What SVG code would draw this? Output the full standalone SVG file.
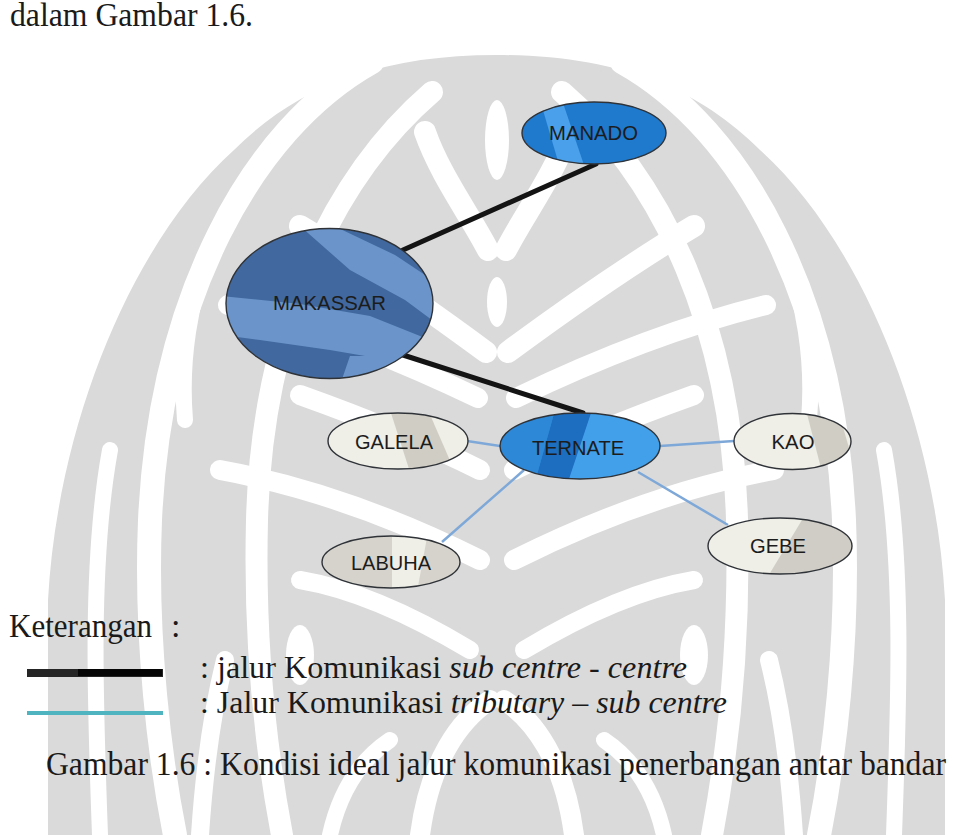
<svg xmlns="http://www.w3.org/2000/svg" xmlns:xlink="http://www.w3.org/1999/xlink" width="953" height="835" viewBox="0 0 953 835">
  <defs>
    <style>
      .wm { fill: #dadada; }
      .gap { fill: none; stroke: #ffffff; stroke-linecap: round; }
      .outline { fill: none; stroke: #2f3338; stroke-width: 1.4; }
      .lbl { font-family: "Liberation Sans", Arial, sans-serif; font-size: 21px; fill: #1c1c1c; text-anchor: middle; }
      .hub { fill: none; stroke: #141414; stroke-width: 5; stroke-linecap: round; }
      .spoke { fill: none; stroke: #7ea8d8; stroke-width: 2.5; }
      .doc { font-family: "Liberation Serif", "Times New Roman", serif; font-size: 34px; fill: #1a1a1a; }
      .row { font-size: 31px; }
      .it { font-style: italic; }
    </style>
    <clipPath id="cManado"><ellipse cx="594" cy="133" rx="72" ry="31"/></clipPath>
    <clipPath id="cMakassar"><ellipse cx="329.5" cy="303.5" rx="103.5" ry="75"/></clipPath>
    <clipPath id="cTernate"><ellipse cx="580" cy="446" rx="80" ry="33"/></clipPath>
    <clipPath id="cGalela"><ellipse cx="398" cy="441" rx="70" ry="28"/></clipPath>
    <clipPath id="cKao"><ellipse cx="792.5" cy="441.5" rx="58.5" ry="28"/></clipPath>
    <clipPath id="cLabuha"><ellipse cx="391" cy="562" rx="69" ry="26"/></clipPath>
    <clipPath id="cGebe"><ellipse cx="780" cy="546" rx="72" ry="28"/></clipPath>
  </defs>

  <rect width="953" height="835" fill="#ffffff"/>

  <!-- background emblem, symmetric about x = 497 -->
  <g id="watermark">
    <path class="wm" d="M497 55 C620 55 700 90 760 150 C860 240 935 420 945 600 L945 835 L48 835 L48 600 C58 420 134 240 234 150 C294 90 374 55 497 55 Z"/>
    <g id="gaps-left">
      <path class="gap" stroke-width="24" d="M372 62 C250 130 160 300 150 520 C145 640 160 760 175 835"/>
      <path class="gap" stroke-width="22" d="M432 92 C330 180 262 330 257 520 C254 640 264 740 282 835"/>
      <path class="gap" stroke-width="22" d="M488 250 C470 215 440 175 425 132"/>
      <path class="gap" stroke-width="22" d="M486 352 C440 318 370 268 300 226"/>
      <path class="gap" stroke-width="20" d="M478 398 C420 370 330 330 228 305"/>
      <path class="gap" stroke-width="20" d="M480 470 C430 445 370 420 300 395"/>
      <path class="gap" stroke-width="20" d="M480 560 C420 530 330 490 220 470"/>
      <path class="gap" stroke-width="18" d="M470 650 C420 620 360 590 300 580"/>
      <path class="gap" stroke-width="20" d="M420 835 C430 760 460 720 490 700"/>
      <path class="gap" stroke-width="16" d="M100 835 C95 700 90 560 110 450"/>
      <path class="gap" stroke-width="18" d="M200 835 C205 760 215 700 225 660"/>
      <path class="gap" stroke-width="16" d="M330 835 C340 790 360 760 390 740"/>
      <path class="gap" stroke-width="16" d="M210 250 C190 300 180 360 185 420"/>
      <ellipse cx="300" cy="655" rx="14" ry="30" fill="#ffffff"/>
    </g>
    <use xlink:href="#gaps-left" transform="translate(994 0) scale(-1 1)"/>
    <ellipse cx="497" cy="302" rx="10" ry="25" fill="#ffffff"/>
    <ellipse cx="497" cy="140" rx="12" ry="40" fill="#ffffff"/>
  </g>

  <!-- route lines -->
  <g id="connectors">
    <line class="hub" x1="403" y1="250" x2="596" y2="164"/>
    <line class="hub" x1="403" y1="355" x2="583" y2="413"/>
    <line class="spoke" x1="467" y1="441" x2="500" y2="446"/>
    <line class="spoke" x1="660" y1="446" x2="734" y2="441"/>
    <line class="spoke" x1="524" y1="470" x2="442" y2="542"/>
    <line class="spoke" x1="638" y1="472" x2="728" y2="525"/>
  </g>

  <g id="node-manado">
    <ellipse cx="594" cy="133" rx="72" ry="31" fill="#1f79cd"/>
    <polygon clip-path="url(#cManado)" fill="#4aa0ea" points="540,100 562,100 585,168 560,168"/>
    <ellipse class="outline" cx="594" cy="133" rx="72" ry="31"/>
    <text class="lbl" x="593.5" y="140" textLength="89" lengthAdjust="spacingAndGlyphs">MANADO</text>
  </g>

  <g id="node-makassar">
    <ellipse cx="329.5" cy="303.5" rx="103.5" ry="75" fill="#41699f"/>
    <g clip-path="url(#cMakassar)" fill="#6b95ca">
      <polygon points="300,226 334,226 395,255 440,285 440,326 405,300 350,270"/>
      <polygon points="222,296 300,304 370,316 430,340 440,368 400,362 330,350 260,340 222,335"/>
      <polygon points="350,356 420,356 420,385 340,385"/>
    </g>
    <ellipse class="outline" cx="329.5" cy="303.5" rx="103.5" ry="75"/>
    <text class="lbl" x="329.5" y="310" textLength="113" lengthAdjust="spacingAndGlyphs">MAKASSAR</text>
  </g>

  <g id="node-ternate">
    <ellipse cx="580" cy="446" rx="80" ry="33" fill="#42a0ea"/>
    <g clip-path="url(#cTernate)">
      <polygon fill="#2d88d8" points="498,410 555,410 535,482 498,482"/>
      <polygon fill="#1d6dc0" points="555,410 592,410 568,482 535,482"/>
    </g>
    <ellipse class="outline" cx="580" cy="446" rx="80" ry="33"/>
    <text class="lbl" x="578" y="455" textLength="92" lengthAdjust="spacingAndGlyphs">TERNATE</text>
  </g>

  <g id="node-galela">
    <ellipse cx="398" cy="441" rx="70" ry="28" fill="#efeee7"/>
    <polygon clip-path="url(#cGalela)" fill="#cfcdc4" points="390,410 428,410 455,472 410,472"/>
    <ellipse class="outline" cx="398" cy="441" rx="70" ry="28"/>
    <text class="lbl" x="394" y="449" textLength="78" lengthAdjust="spacingAndGlyphs">GALELA</text>
  </g>

  <g id="node-kao">
    <ellipse cx="792.5" cy="441.5" rx="58.5" ry="28" fill="#efeee7"/>
    <polygon clip-path="url(#cKao)" fill="#cfcdc4" points="806,410 838,410 856,472 822,472"/>
    <ellipse class="outline" cx="792.5" cy="441.5" rx="58.5" ry="28"/>
    <text class="lbl" x="793" y="449" textLength="43" lengthAdjust="spacingAndGlyphs">KAO</text>
  </g>

  <g id="node-labuha">
    <ellipse cx="391" cy="562" rx="69" ry="26" fill="#d5d3cb"/>
    <polygon clip-path="url(#cLabuha)" fill="#efeee7" points="392,532 428,532 417,592 392,592"/>
    <ellipse class="outline" cx="391" cy="562" rx="69" ry="26"/>
    <text class="lbl" x="391" y="570" textLength="80" lengthAdjust="spacingAndGlyphs">LABUHA</text>
  </g>

  <g id="node-gebe">
    <ellipse cx="780" cy="546" rx="72" ry="28" fill="#efeee7"/>
    <polygon clip-path="url(#cGebe)" fill="#cfcdc5" points="805,515 860,515 860,578 767,578"/>
    <ellipse class="outline" cx="780" cy="546" rx="72" ry="28"/>
    <text class="lbl" x="778" y="553" textLength="56" lengthAdjust="spacingAndGlyphs">GEBE</text>
  </g>

  <!-- surrounding page text and legend -->
  <text class="doc" x="10" y="26" font-size="28" textLength="243" lengthAdjust="spacingAndGlyphs">dalam Gambar 1.6.</text>
  <text class="doc" x="9" y="637"><tspan textLength="143" lengthAdjust="spacingAndGlyphs">Keterangan</tspan><tspan x="171">:</tspan></text>

  <g id="legend">
    <rect x="27" y="669" width="136" height="8" fill="#252525"/>
    <rect x="78" y="669" width="84" height="7" fill="#050505"/>
    <rect x="27" y="711" width="136" height="4" fill="#4fb4c0"/>
  </g>
  <text class="doc row" x="200" y="678" textLength="487" lengthAdjust="spacingAndGlyphs">: jalur Komunikasi <tspan class="it">sub centre - centre</tspan></text>
  <text class="doc row" x="200" y="713" textLength="527" lengthAdjust="spacingAndGlyphs">: Jalur Komunikasi <tspan class="it">tributary – sub centre</tspan></text>
  <text class="doc" x="46" y="775" font-size="31.5" textLength="900" lengthAdjust="spacingAndGlyphs">Gambar 1.6 : Kondisi ideal jalur komunikasi penerbangan antar bandar</text>
</svg>
